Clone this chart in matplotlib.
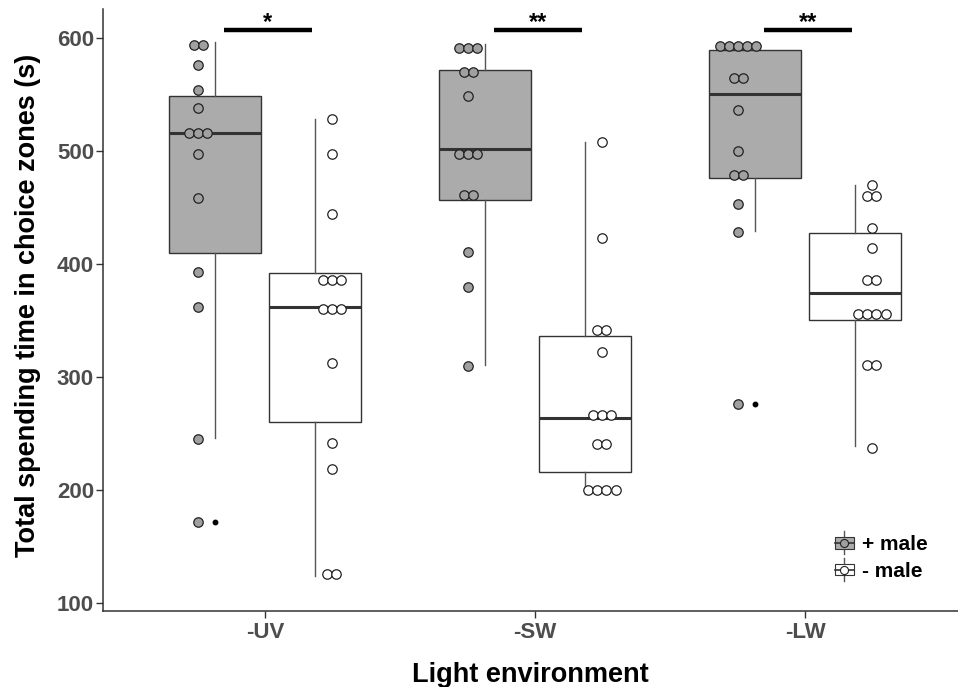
import matplotlib
matplotlib.use('Agg')
import matplotlib.pyplot as plt
from matplotlib.legend_handler import HandlerBase
from matplotlib.patches import Rectangle, Patch
from matplotlib.lines import Line2D
from collections import Counter

plt.rcParams['font.family'] = ['Liberation Sans', 'DejaVu Sans']

# ---------------- data ----------------
categories = ['-UV', '-SW', '-LW']
group_labels = ['+ male', '- male']

dots_plus = [
    [594, 594, 576, 554, 538, 516, 516, 516, 497, 458, 393, 362, 245, 172],
    [591, 591, 591, 570, 570, 549, 497, 497, 497, 461, 461, 411, 380, 310],
    [593, 593, 593, 593, 593, 565, 565, 536, 500, 479, 479, 453, 428, 276],
]
dots_minus = [
    [528, 497, 444, 386, 386, 386, 360, 360, 360, 312, 242, 219, 126, 126],
    [508, 423, 342, 342, 322, 266, 266, 266, 241, 241, 200, 200, 200, 200],
    [470, 460, 460, 432, 414, 386, 386, 356, 356, 356, 356, 311, 311, 237],
]

# box statistics (whisker low, Q1, median, Q3, whisker high, outliers)
lo_plus = [246, 311, 429]
q1_plus = [410, 457, 476]
med_plus = [516, 502, 550]
q3_plus = [549, 572, 589]
hi_plus = [596, 595, 593]
out_plus = [[172], [], [276]]

lo_minus = [124, 196, 239]
q1_minus = [260, 216, 350]
med_minus = [362, 264, 374]
q3_minus = [392, 336, 427]
hi_minus = [528, 508, 470]
out_minus = [[], [], []]

signif = ['*', '**', '**']
signif_y = 606.6
yticks = [100, 200, 300, 400, 500, 600]

# ---------------- styling ----------------
box_fill = ['#ABABAB', '#FFFFFF']
dot_fill = ['#A0A0A0', '#FFFFFF']
edge = '#333333'
dodge = 0.185
dot_off = 0.248
box_w = 0.3375
dot_step = 0.0336

fig = plt.figure(figsize=(9.58, 6.87), dpi=100)
W, H = 958, 687
ax = fig.add_axes([103 / W, 76 / H, 855 / W, (611 - 8.8) / H])

for g, (lo, q1, med, q3, hi, outs) in enumerate([
        (lo_plus, q1_plus, med_plus, q3_plus, hi_plus, out_plus),
        (lo_minus, q1_minus, med_minus, q3_minus, hi_minus, out_minus)]):
    stats = []
    for i in range(len(categories)):
        stats.append(dict(med=med[i], q1=q1[i], q3=q3[i], whislo=lo[i],
                          whishi=hi[i], fliers=outs[i]))
    sign = -1 if g == 0 else 1
    pos = [i + 1 + sign * dodge for i in range(len(categories))]
    ax.bxp(stats, positions=pos, widths=box_w, patch_artist=True,
           showcaps=False, showfliers=True,
           boxprops=dict(facecolor=box_fill[g], edgecolor=edge, linewidth=1),
           medianprops=dict(color=edge, linewidth=2.2),
           whiskerprops=dict(color='#555555', linewidth=1),
           flierprops=dict(marker='o', markersize=3.2, markerfacecolor='black',
                           markeredgecolor='black', linestyle='none'),
           zorder=2)

for g, dots in enumerate([dots_plus, dots_minus]):
    sign = -1 if g == 0 else 1
    for i, vals in enumerate(dots):
        base = i + 1 + sign * dot_off
        cnt = Counter(vals)
        for v, k in cnt.items():
            xs = [base + (j - (k - 1) / 2) * dot_step for j in range(k)]
            ax.plot(xs, [v] * k, linestyle='none', marker='o', markersize=6.8,
                    markerfacecolor=dot_fill[g], markeredgecolor='#222222',
                    markeredgewidth=0.9, zorder=4)

# significance bars
for i, s in enumerate(signif):
    c = i + 1
    ax.plot([c - 0.153, c + 0.174], [signif_y, signif_y], color='black',
            linewidth=3.2, solid_capstyle='butt', zorder=5)
    ax.text(c + 0.01, signif_y + 1.5, s, ha='center', va='baseline',
            fontsize=17, fontweight='bold', color='black')

ax.set_xlim(0.4, 0.4 + 855 / 270)
ax.set_ylim(92.9, 625.8)
ax.set_xticks(range(1, len(categories) + 1), categories)
ax.set_yticks(yticks)
for sp in ['top', 'right']:
    ax.spines[sp].set_visible(False)
for sp in ['left', 'bottom']:
    ax.spines[sp].set_color(edge)
    ax.spines[sp].set_linewidth(1.1)
ax.tick_params(axis='both', length=5, width=1, color=edge,
               labelcolor='#4D4D4D', labelsize=16)
ax.tick_params(axis='y', pad=1.5)
ax.tick_params(axis='x', pad=3)
for lab in ax.get_xticklabels() + ax.get_yticklabels():
    lab.set_fontweight('bold')

fig.text(28 / W, 1 - 305 / H, 'Total spending time in choice zones (s)',
         rotation=90, ha='center', va='center', fontsize=19.5,
         fontweight='bold', color='black')
fig.text(530.5 / W, 1 - 682 / H, 'Light environment', ha='center',
         va='baseline', fontsize=19.5, fontweight='bold', color='black')


class BoxKey(HandlerBase):
    def __init__(self, dotcolor):
        super().__init__()
        self.dotcolor = dotcolor

    def create_artists(self, legend, orig_handle, xdescent, ydescent,
                       width, height, fontsize, trans):
        fc = orig_handle.get_facecolor()
        cx = -xdescent + width / 2
        cy = -ydescent + height / 2
        vl = Line2D([cx, cx], [cy - height * 0.95, cy + height * 0.95],
                    color='#555555', lw=1, transform=trans)
        r = Rectangle((cx - width / 2, cy - height / 2), width, height,
                      facecolor=fc, edgecolor=edge, lw=0.8, transform=trans)
        hl = Line2D([cx - width / 2, cx + width / 2], [cy, cy], color=edge,
                    lw=1.2, transform=trans)
        dot = Line2D([cx], [cy], marker='o', markersize=5.8,
                     markerfacecolor=self.dotcolor, markeredgecolor='#222222',
                     markeredgewidth=0.8, linestyle='none', transform=trans)
        return [vl, r, hl, dot]


h_plus = Patch(facecolor=box_fill[0])
h_minus = Patch(facecolor=box_fill[1])
leg = ax.legend([h_plus, h_minus], group_labels,
                handler_map={h_plus: BoxKey(dot_fill[0]),
                             h_minus: BoxKey(dot_fill[1])},
                loc='upper left', bbox_to_anchor=(834.5 / W, 1 - 535 / H),
                bbox_transform=fig.transFigure, frameon=False,
                borderpad=0, borderaxespad=0, handlelength=0.92,
                handleheight=0.5, handletextpad=0.42, labelspacing=0.38,
                prop=dict(size=15, weight='bold'))

fig.savefig('out.png', dpi=100)
